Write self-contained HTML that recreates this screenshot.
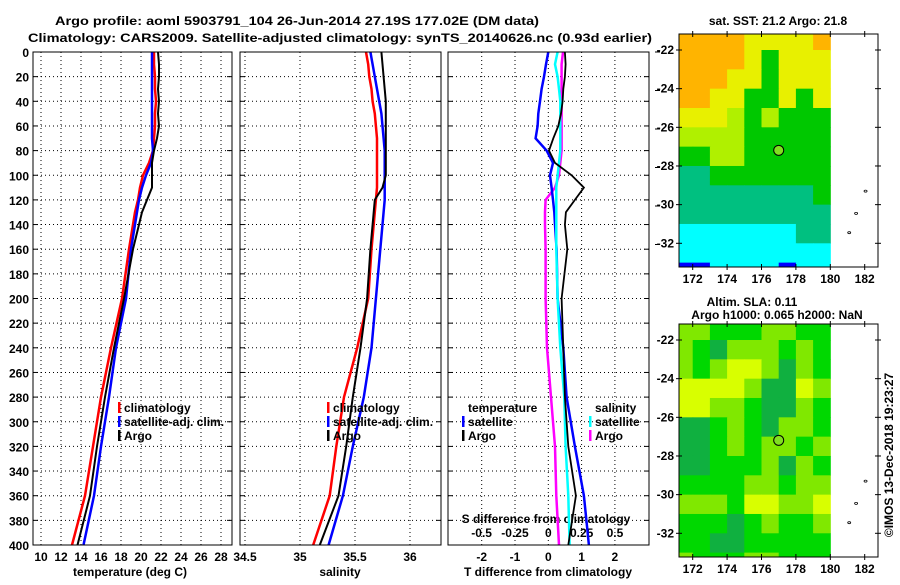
<!DOCTYPE html>
<html><head><meta charset="utf-8"><style>
body{margin:0;background:#fff}
svg text{font-family:"Liberation Sans",Arial,sans-serif;font-weight:bold;font-size:12px;fill:#000}
</style></head><body>
<svg id="c" width="900" height="580" xmlns="http://www.w3.org/2000/svg">
<rect width="900" height="580" fill="#fff"/>
<text x="55" y="25" font-size="15" textLength="484" lengthAdjust="spacingAndGlyphs">Argo profile: aoml 5903791_104 26-Jun-2014 27.19S 177.02E (DM data)</text>
<text x="28" y="42" font-size="15" textLength="624" lengthAdjust="spacingAndGlyphs">Climatology: CARS2009. Satellite-adjusted climatology: synTS_20140626.nc (0.93d earlier)</text>
<g id="g"></g>
</svg>
<script>
const depths=[0,10,20,30,40,50,60,70,80,90,100,110,120,130,140,160,200,240,280,320,360,400];
const tempClim=[21.3,21.3,21.4,21.4,21.5,21.4,21.4,21.3,21.2,20.8,20.2,19.9,19.7,19.4,19.2,18.8,18.1,17.0,16.0,15.2,14.4,13.1];
const tempSat=[21.1,21.1,21.1,21.1,21.1,21.1,21.1,21.1,21.2,21.0,20.5,20.1,19.8,19.6,19.4,19.0,18.5,17.5,16.8,16.0,15.3,14.25];
const tempArgo=[21.7,21.8,21.8,21.7,21.8,21.7,21.8,21.6,21.3,21.1,21.1,21.1,20.6,20.1,19.8,19.2,18.3,17.3,16.4,15.6,14.9,13.65];
const salClim=[35.6,35.62,35.63,35.65,35.66,35.68,35.69,35.7,35.7,35.7,35.7,35.7,35.69,35.68,35.67,35.65,35.62,35.52,35.4,35.33,35.27,35.12];
const salSat=[35.64,35.66,35.68,35.7,35.72,35.74,35.75,35.76,35.77,35.77,35.77,35.77,35.77,35.76,35.75,35.73,35.69,35.65,35.58,35.48,35.39,35.26];
const salArgo=[35.74,35.75,35.76,35.77,35.78,35.78,35.78,35.78,35.78,35.78,35.78,35.75,35.68,35.67,35.66,35.64,35.61,35.55,35.48,35.42,35.35,35.18];
const dTsat=[0,-0.07,-0.13,-0.2,-0.25,-0.3,-0.32,-0.38,-0.05,0.14,0.05,0.1,0.14,0.18,0.2,0.25,0.28,0.45,0.55,0.8,1.07,1.22];
const dTargo=[0.5,0.52,0.5,0.45,0.43,0.38,0.3,0.15,0.02,0.2,0.7,1.07,0.8,0.53,0.5,0.57,0.4,0.45,0.5,0.6,0.83,0.6];
const dSsat=[0.07,0.05,0.07,0.08,0.09,0.09,0.09,0.09,0.09,0.08,0.07,0.06,0.06,0.06,0.06,0.06,0.07,0.09,0.12,0.13,0.15,0.16];
const dSargo=[0.11,0.1,0.1,0.1,0.1,0.1,0.1,0.1,0.1,0.09,0.08,0.05,-0.02,-0.025,-0.025,-0.02,-0.02,-0.01,0.02,0.05,0.06,0.08];
const depthTicks=[0,20,40,60,80,100,120,140,160,180,200,220,240,260,280,300,320,340,360,380,400];
const tTicks=[10,12,14,16,18,20,22,24,26,28];
const sTicks=[34.5,35,35.5,36];
const sTickLabels=["34.5","35","35.5","36"];
const dtTicks=[-2,-1,0,1,2];
const dsTicks=[-0.5,-0.25,0,0.25,0.5];
const dsTickLabels=["-0.5","-0.25","0","0.25","0.5"];
const lonTicks=[172,174,176,178,180,182];
const latTicks=[-22,-24,-26,-28,-30,-32];
const sstRows=["OOOOYYYYO","OOOOYGYYY","OOOYYGYYY","OOYYGGYGY","YYYLGLGGG","LLLLGGGGG","GGLLGGGGG","TTGGGGGGG","TTTTTTTTG","TTTTTTTTT","CCCCCCCTT","CCCCCCCCC","BBCCCCBCC"];
const slaRows=["LLGGGLLGG","LGALLLGLG","LGLYYLALG","YYYYLAAYL","YYLLGAALG","AAGLGALLG","AAGLGLLGL","AAGGGLALG","GGGGLLGLL","LLLGYYLLY","GGGAGLGGL","GGAAGGGGG","LGGGLLGGG"];
const sstColors={O:"#ffb400",Y:"#e8f000",L:"#b0f000",G:"#00c800",T:"#00c080",C:"#00ffff",B:"#0000ff"};
const slaColors={A:"#10b040",G:"#00d800",L:"#80e800",Y:"#d8ff00"};

const NS="http://www.w3.org/2000/svg";
const G=document.getElementById('g');
function el(t,a,p){const e=document.createElementNS(NS,t);for(const k in a)e.setAttribute(k,a[k]);(p||G).appendChild(e);return e;}
const Y0=52,Y1=545;
const yD=d=>Y0+d*(Y1-Y0)/400;
const xT=t=>41+(t-10)*10;
const xS=s=>245+(s-34.5)*110;
const xDT=v=>548.3+v*33.3;
const xDS=v=>548.3+v*133.3;
const panels=[[33,232],[240,441],[448,649]];
panels.forEach((p,i)=>{
  for(const d of depthTicks){
    const l=el('line',{x1:p[0],x2:p[1],y1:yD(d),y2:yD(d),stroke:'#000','stroke-dasharray':'1,3','stroke-width':1});
    
    
    el('line',{x1:p[0],x2:p[0]+5,y1:yD(d),y2:yD(d),stroke:'#000'});
    el('line',{x1:p[1]-5,x2:p[1],y1:yD(d),y2:yD(d),stroke:'#000'});
  }
});
function vgrid(vals,fx,p,labels,ly,name){
  vals.forEach((v,i)=>{
    const x=fx(v);
    if(x>p[0]+2&&x<p[1]-2){const l=el('line',{x1:x,x2:x,y1:Y0,y2:Y1,stroke:'#000','stroke-dasharray':'1,3'});
    
    }
    if(labels){const t=el('text',{x:x,y:ly,'text-anchor':'middle','font-size':'12.5'});t.textContent=labels[i];
    
    }
  });
}
vgrid(tTicks,xT,panels[0],tTicks.map(String),561,'temperature');
vgrid(sTicks,xS,panels[1],sTickLabels,561,'salinity');
vgrid(dtTicks,xDT,panels[2],dtTicks.map(String),561,'t-difference');
dsTicks.forEach((v,i)=>{const t=el('text',{x:xDS(v),y:537,'text-anchor':'middle','font-size':'12.5'});t.textContent=dsTickLabels[i];

});
depthTicks.forEach(d=>{const t=el('text',{x:29,y:yD(d)+5,'text-anchor':'end','font-size':'13'});t.textContent=d;

});
[[130,'temperature (deg C)','x-axis-title-temperature'],[340,'salinity','x-axis-title-salinity'],[548,'T difference from climatology','x-axis-title-t-difference']].forEach(a=>{
  const t=el('text',{x:a[0],y:576,'text-anchor':'middle','font-size':'12.5'});t.textContent=a[1];
  
  
});
const st=el('text',{x:546,y:523,'text-anchor':'middle','font-size':'12.5'});st.textContent='S difference from climatology';


for(let k=0;k<6;k++)el('line',{x1:655,x2:660,y1:52+k*38.5,y2:52+k*38.5,stroke:'#000'});
function series(vals,fx,color,w,name){
  const pts=vals.map((v,i)=>fx(v).toFixed(1)+','+yD(depths[i]).toFixed(1)).join(' ');
  const p=el('polyline',{points:pts,fill:'none',stroke:color,'stroke-width':w});
  
  
}
series(tempClim,xT,'#f00',2.5,'temperature-climatology-line');
series(tempSat,xT,'#00f',2.5,'temperature-satellite-line');
series(tempArgo,xT,'#000',2,'temperature-argo-line');
series(salClim,xS,'#f00',2.5,'salinity-climatology-line');
series(salSat,xS,'#00f',2.5,'salinity-satellite-line');
series(salArgo,xS,'#000',2,'salinity-argo-line');
series(dSargo,xDS,'#f0f',2.5,'s-difference-argo-line');
series(dTsat,xDT,'#00f',2.5,'t-difference-satellite-line');
series(dSsat,xDS,'#0ff',2.5,'s-difference-satellite-line');
series(dTargo,xDT,'#000',1.8,'t-difference-argo-line');
panels.forEach((p,i)=>{const r=el('rect',{x:p[0],y:Y0,width:p[1]-p[0],height:Y1-Y0,fill:'none',stroke:'#000'});

});
function legend(x,y,items){
  items.forEach((it,i)=>{
    if(it[1])el('rect',{x:x,y:y+i*14-10,width:2.5,height:11,fill:it[1]});
    const t=el('text',{x:x+6,y:y+i*14});t.textContent=it[0];
    
    
  });
}
legend(118,412,[['climatology','#f00'],['satellite-adj. clim.','#00f'],['Argo','#000']]);
legend(327,412,[['climatology','#f00'],['satellite-adj. clim.','#00f'],['Argo','#000']]);
legend(462,412,[['temperature',null],['satellite','#00f'],['Argo','#000']]);
legend(589,412,[['salinity',null],['satellite','#0ff'],['Argo','#f0f']]);

function map(top,rows,colors,name){
  const bot=top+233, left=679, right=878;
  const xL=l=>692.7+(l-172)*17.2;
  const yL=a=>top+16+(-22-a)*19.33;
  const cid='clip'+top;
  const cp=el('clipPath',{id:cid});
  el('rect',{x:left,y:top,width:xL(180.05)-left,height:bot-top},cp);
  const g=el('g',{'clip-path':'url(#'+cid+')'});
  
  
  rows.forEach((row,r)=>{
    const lat=-21-r;
    [...row].forEach((c,j)=>{
      const lon=171+j;
      const x0=xL(lon),y0=yL(lat);
      el('rect',{x:x0,y:y0,width:xL(lon+1)-x0+0.5,height:yL(lat-1)-y0+0.5,fill:colors[c]},g);
    });
  });
  const m=el('circle',{cx:xL(177),cy:yL(-27.19),r:5,fill:'#80e020',stroke:'#000','stroke-width':1});
  
  
  [[182.05,-29.3],[181.5,-30.45],[181.1,-31.45]].forEach(p=>el('ellipse',{cx:xL(p[0]),cy:yL(p[1]),rx:1.5,ry:1,fill:'none',stroke:'#000','stroke-width':0.8}));
  const b=el('rect',{x:left,y:top,width:right-left,height:bot-top,fill:'none',stroke:'#000'});
  
  
  lonTicks.forEach(l=>{const x=xL(l);
    el('line',{x1:x,x2:x,y1:top-3,y2:top+3,stroke:'#000'});el('line',{x1:x,x2:x,y1:bot-3,y2:bot+3,stroke:'#000'});
    const t=el('text',{x:x,y:bot+16,'text-anchor':'middle','font-size':'12.5'});t.textContent=l;
    
    });
  latTicks.forEach(a=>{const y=yL(a);
    el('line',{x1:left-3,x2:left+3,y1:y,y2:y,stroke:'#000'});el('line',{x1:right-3,x2:right+3,y1:y,y2:y,stroke:'#000'});
    const t=el('text',{x:left-5,y:y+4,'text-anchor':'end','font-size':'12.5'});t.textContent=a;
    
    });
}
map(34,sstRows,sstColors,'sst-map');
map(324,slaRows,slaColors,'sla-map');
[[778,25,'sat. SST: 21.2 Argo: 21.8','sst-map-title'],[752,306,'Altim. SLA: 0.11','sla-map-title'],[777,319,'Argo h1000: 0.065 h2000: NaN','sla-map-subtitle']].forEach(a=>{
  const t=el('text',{x:a[0],y:a[1],'text-anchor':'middle'});t.textContent=a[2];
  
  
});
const cr=el('text',{x:0,y:0,'text-anchor':'middle',transform:'translate(893,455) rotate(-90)','font-weight':'normal'});
cr.textContent='©IMOS 13-Dec-2018 19:23:27';


</script>
</body></html>
